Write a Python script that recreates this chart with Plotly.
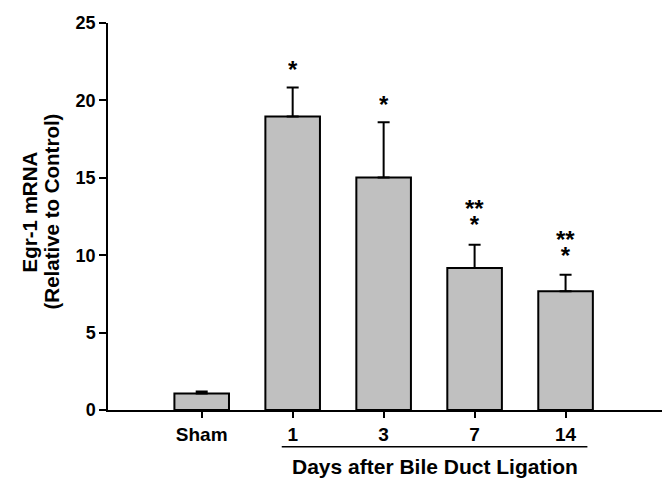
import plotly.graph_objects as go

categories = ["Sham", "1", "3", "7", "14"]
values = [1.07, 18.96, 15.02, 9.18, 7.67]
errors = [0.13, 1.87, 3.57, 1.49, 1.06]
stars_top = ["", "", "", "**", "**"]
stars_low = ["", "*", "*", "*", "*"]

FONT = "Liberation Sans, Arial, sans-serif"
xpos = list(range(len(categories)))

fig = go.Figure()
fig.add_trace(go.Bar(
    x=xpos, y=values, width=0.6,
    marker=dict(color="#c0c0c0", line=dict(color="black", width=2)),
    error_y=dict(type="data", array=errors, arrayminus=[0] * len(errors),
                 symmetric=False, color="black", thickness=2, width=6),
    showlegend=False,
))

star_font = dict(family=FONT, size=24, color="black", weight="bold")
annotations = []
for i, (v, e) in enumerate(zip(values, errors)):
    top = v + e
    if stars_top[i]:
        txt = ("<span style='font-size:24px'>%s</span><br>"
               "<span style='font-size:24px'>%s</span>" % (stars_top[i], stars_low[i]))
        annotations.append(dict(x=i, y=top + 1.8, xref="x", yref="y", text=txt,
                                showarrow=False, yanchor="middle",
                                font=dict(family=FONT, size=12.5, color="black", weight="bold")))
    elif stars_low[i]:
        annotations.append(dict(x=i, y=top + 1.0, xref="x", yref="y", text=stars_low[i],
                                showarrow=False, yanchor="bottom", height=14, valign="top",
                                font=star_font))

annotations.append(dict(x=2.57, y=-0.147, xref="x", yref="paper",
                        text="Days after Bile Duct Ligation", showarrow=False,
                        xanchor="center", yanchor="middle",
                        font=dict(family=FONT, size=21, color="black", weight="bold")))
ytitle_font = dict(family=FONT, size=20.5, color="black", weight="bold")
annotations.append(dict(x=-0.1426, y=0.513, xref="paper", yref="paper",
                        text="Egr-1 mRNA", showarrow=False,
                        textangle=-90, xanchor="center", yanchor="middle", font=ytitle_font))
annotations.append(dict(x=-0.1029, y=0.513, xref="paper", yref="paper",
                        text="(Relative to Control)", showarrow=False,
                        textangle=-90, xanchor="center", yanchor="middle", font=ytitle_font))

fig.update_layout(
    width=662, height=482,
    margin=dict(l=108, r=0, t=23, b=72),
    paper_bgcolor="white", plot_bgcolor="white",
    annotations=annotations,
    shapes=[dict(type="line", xref="x", yref="paper", x0=0.88, x1=4.24,
                 y0=-0.095, y1=-0.095, line=dict(color="black", width=1.5))],
    xaxis=dict(range=[-1.03, 5.06], tickmode="array", tickvals=xpos, ticktext=categories,
               showline=True, linecolor="black", linewidth=1.5, ticks="outside",
               ticklen=6, tickwidth=1.5, tickcolor="black", showgrid=False, zeroline=False,
               tickfont=dict(family=FONT, size=19, color="black", weight="bold")),
    yaxis=dict(range=[0, 25], tickvals=[0, 5, 10, 15, 20, 25],
               showline=True, linecolor="black", linewidth=1.5, ticks="outside",
               ticklen=7, tickwidth=1.5, tickcolor="black", showgrid=False, zeroline=False,
               tickfont=dict(family=FONT, size=18, color="black", weight="bold")),
)

fig.write_html("out.html")
